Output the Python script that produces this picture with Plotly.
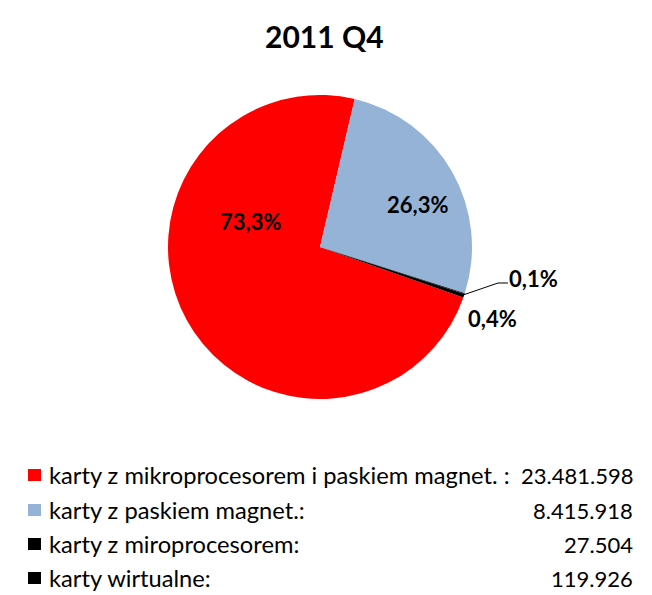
import plotly.graph_objects as go

W, H = 652, 595

title = "2011 Q4"
labels = ["karty z mikroprocesorem i paskiem magnet. :",
          "karty z paskiem magnet.:",
          "karty z miroprocesorem:",
          "karty wirtualne:"]
values = [23481598, 8415918, 27504, 119926]
value_text = ["23.481.598", "8.415.918", "27.504", "119.926"]
colors = ["#FF0000", "#95B3D7", "#000000", "#000000"]

FONT = "Lato"

def px(x, y):
    return x / W, 1 - y / H

total = sum(values)
pct = [f"{v / total * 100:.1f}".replace(".", ",") + "%" for v in values]

fig = go.Figure()
x0, y1 = px(168, 95)
x1, y0 = px(472, 399)
fig.add_trace(go.Pie(
    labels=labels, values=values, sort=False, direction="clockwise",
    rotation=-250.6, marker=dict(colors=colors, line=dict(width=0)),
    textinfo="none", hoverinfo="label+value+percent",
    domain=dict(x=[x0, x1], y=[y0, y1]), showlegend=False,
))

annotations = []
# percentage labels
label_pos = [(250, 221), (417, 204), (533, 278), (492, 318)]
for t, (lx, ly) in zip(pct, label_pos):
    ax_, ay_ = px(lx, ly)
    annotations.append(dict(x=ax_, y=ay_, xref="paper", yref="paper", text=f"<b>{t}</b>",
                            showarrow=False, font=dict(family=FONT, size=22, color="#000"),
                            xanchor="center", yanchor="middle"))

# title
tx, ty = px(324, 36)
annotations.append(dict(x=tx, y=ty, xref="paper", yref="paper", text=f"<b>{title}</b>",
                        showarrow=False, font=dict(family=FONT, size=30, color="#000"),
                        xanchor="center", yanchor="middle"))

shapes = []
# leader line for 0,1%
pts = [px(463, 295), px(498, 283), px(508, 283)]
path = "M " + " L ".join(f"{a},{b}" for a, b in pts)
shapes.append(dict(type="path", path=path, xref="paper", yref="paper",
                   line=dict(color="#000", width=1)))

# legend
row_y = [475, 510, 544, 578]
for lab, vt, c, ry in zip(labels, value_text, colors, row_y):
    sx0, sy1 = px(28, ry - 6)
    sx1, sy0 = px(41, ry + 6)
    shapes.append(dict(type="rect", xref="paper", yref="paper", x0=sx0, x1=sx1, y0=sy0, y1=sy1,
                       fillcolor=c, line=dict(width=0)))
    lx, ly = px(47, ry)
    annotations.append(dict(x=lx, y=ly, xref="paper", yref="paper", text=lab, showarrow=False,
                            font=dict(family=FONT, size=23.7, color="#000"),
                            xanchor="left", yanchor="middle"))
    vx, vy = px(635, ry)
    annotations.append(dict(x=vx, y=vy, xref="paper", yref="paper", text=vt, showarrow=False,
                            font=dict(family=FONT, size=22, color="#000"),
                            xanchor="right", yanchor="middle"))

fig.update_layout(width=W, height=H, margin=dict(l=0, r=0, t=0, b=0),
                  paper_bgcolor="white", plot_bgcolor="white",
                  annotations=annotations, shapes=shapes, showlegend=False)

fig.write_html("out.html", config={"displayModeBar": False},
               post_script="document.body.style.margin='0';document.body.style.overflow='hidden';")
